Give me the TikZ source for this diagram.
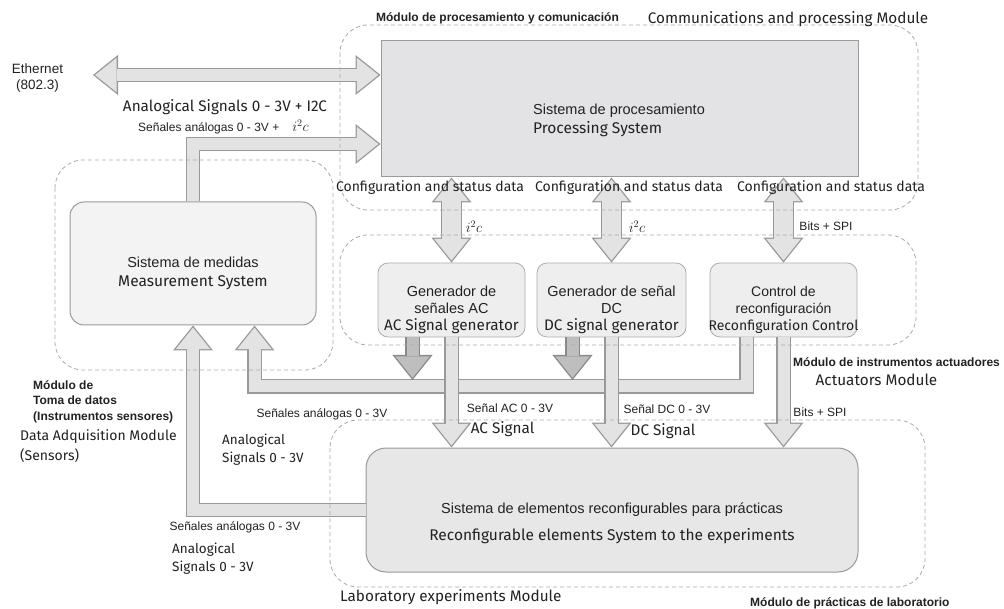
\documentclass[tikz,border=0pt]{standalone}
\usepackage{fontspec}
\setmainfont{Liberation Sans}
\newfontfamily\engfont{Fira Sans}
\usetikzlibrary{arrows.meta}

\definecolor{txt}{HTML}{222222}
\definecolor{boxline}{HTML}{9A9A9A}
\definecolor{procfill}{HTML}{E3E3E5}
\definecolor{measfill}{HTML}{F3F3F3}
\definecolor{genfill}{HTML}{EEEEEE}
\definecolor{labfill}{HTML}{E7E7E7}
\definecolor{arrfill}{HTML}{E3E3E3}
\definecolor{arrline}{HTML}{999999}
\definecolor{darkfill}{HTML}{BEBEBE}
\definecolor{darkline}{HTML}{888888}
\definecolor{modline}{HTML}{AAAAAA}

\tikzset{
  es/.style={font=\fontsize{12}{14}\selectfont},
  esb/.style={font=\bfseries\fontsize{12}{15.5}\selectfont},
  esbox/.style={font=\fontsize{14.5}{19}\selectfont},
  en/.style={font=\engfont\fontsize{15.3}{20}\selectfont},
  encfg/.style={font=\engfont\fontsize{14}{18}\selectfont},
  ensm/.style={font=\engfont\fontsize{13.5}{18}\selectfont},
  label/.style={text=txt, inner sep=0pt},
  procbox/.style={draw=boxline, fill=procfill, line width=1pt, inner sep=0pt},
  rbox/.style={draw=boxline, line width=1pt, rounded corners=14pt, inner sep=0pt},
  genbox/.style={draw=boxline!80, fill=genfill, line width=0.8pt, rounded corners=10pt, inner sep=0pt,
    minimum height=74pt},
  modframe/.style={draw=modline, line width=0.8pt, dash pattern=on 4pt off 3pt, rounded corners=28pt},
  % block arrow bands: outline pass and fill pass
  bandO/.style={draw=arrline, line width=14.6pt},
  bandI/.style={draw=arrfill, line width=12pt},
  wbandO/.style={draw=arrline, line width=21pt},
  wbandI/.style={draw=arrfill, line width=18.4pt},
  dbandO/.style={draw=darkline, line width=14.6pt},
  dbandI/.style={draw=darkfill, line width=12pt},
  headO/.style={-{Triangle[width=40pt,length=25pt,line width=0pt]}},
  headI/.style={-{Triangle[width=34.6pt,length=21.6pt,line width=0pt]}, shorten >=2.1pt},
  dblO/.style={{Triangle[width=40pt,length=25pt,line width=0pt]}-{Triangle[width=40pt,length=25pt,line width=0pt]}},
  dblI/.style={{Triangle[width=34.6pt,length=21.6pt,line width=0pt]}-{Triangle[width=34.6pt,length=21.6pt,line width=0pt]},
    shorten >=2.1pt, shorten <=2.1pt},
}

\begin{document}
\begin{tikzpicture}[x=1pt,y=-1pt]
\path[use as bounding box, fill=white] (0,0) rectangle (1004,609);

% ---- system blocks ----
\node[procbox, minimum width=477pt, minimum height=136pt] (proc) at (619.5,109) {};
\node[rbox, fill=measfill, minimum width=246pt, minimum height=123pt] (meas) at (193,263.5) {};
\node[genbox, minimum width=147pt] (acgen) at (451.5,300) {};
\node[genbox, minimum width=149pt] (dcgen) at (611.5,300) {};
\node[genbox, minimum width=147pt] (rcctl) at (783.5,300) {};
\node[rbox, fill=labfill, rounded corners=20pt, minimum width=492pt, minimum height=124pt] (lab) at (612,510) {};

% ---- block texts ----
\node[label, esbox, align=left, anchor=west] (proctxt) at (533,120)
  {Sistema de procesamiento\\{\engfont\fontsize{15.5}{19}\selectfont Processing System}};
\node[label, esbox, align=center] (meastxt) at ([yshift=-10pt]meas.center)
  {Sistema de medidas\\{\engfont\fontsize{15.5}{19}\selectfont Measurement System}};
\node[label, font=\fontsize{14.5}{17}\selectfont, align=center] (actxt) at ([yshift=-10pt]acgen.center)
  {Generador de\\señales AC\\{\engfont\fontsize{15.3}{17}\selectfont AC Signal generator}};
\node[label, font=\fontsize{14.5}{17}\selectfont, align=center] (dctxt) at ([yshift=-10pt]dcgen.center)
  {Generador de señal\\DC\\{\engfont\fontsize{15.3}{17}\selectfont DC signal generator}};
\node[label, font=\fontsize{14}{17}\selectfont, align=center] (rctxt) at ([yshift=-10pt]rcctl.center)
  {Control de\\reconfiguración\\{\engfont Reconfiguration Control}};
\node[label, align=center, font=\fontsize{14.5}{27}\selectfont] (labtxt) at ([yshift=-13.5pt]lab.center)
  {Sistema de elementos reconfigurables para prácticas\\{\engfont\fontsize{15.5}{27}\selectfont Reconfigurable elements System to the experiments}};

% ---- signal connectors ----
\coordinate (ethend) at (93,75);
\coordinate (anbend) at (193,144);
\coordinate (busline) at (0,386.5);
\coordinate (bustop) at (0,380);
\coordinate (busout) at ([xshift=-37pt]rcctl.south);
\coordinate (busin) at ([xshift=61.5pt]meas.south);
\coordinate (acdark) at ([xshift=-39pt]acgen.south);
\coordinate (dcdark) at ([xshift=-39pt]dcgen.south);

% Ethernet link
\draw[bandO, dblO] (ethend) -- (proc.west |- ethend);
\draw[bandI, dblI] (ethend) -- (proc.west |- ethend);
% measurements to processing
\draw[bandO, headO] (meas.north) |- (proc.west |- anbend);
\draw[bandI, headI] (meas.north) |- (proc.west |- anbend);
% actuator bus back to measurements
\draw[bandO, headO] (busout) |- (busin |- busline) -- (busin);
\draw[bandI, headI] (busout) |- (busin |- busline) -- (busin);
% lab elements back to measurements
\draw[bandO, headO] (lab.west) -| (meas.south);
\draw[bandI, headI] (lab.west) -| (meas.south);
% generator outputs onto the bus
\draw[dbandO, headO] (acdark) -- (acdark |- bustop);
\draw[dbandI, headI] (acdark) -- (acdark |- bustop);
\draw[dbandO, headO] (dcdark) -- (dcdark |- bustop);
\draw[dbandI, headI] (dcdark) -- (dcdark |- bustop);
% actuator outputs to the lab elements
\foreach \src in {acgen, dcgen, rcctl} {
  \draw[bandO, headO] (\src.south) -- (\src.south |- lab.north);
  \draw[bandI, headI] (\src.south) -- (\src.south |- lab.north);
}
% processing <-> actuators
\foreach \dst in {acgen, dcgen, rcctl} {
  \draw[wbandO, dblO] (\dst.north |- proc.south) -- (\dst.north);
  \draw[wbandI, dblI] (\dst.north |- proc.south) -- (\dst.north);
}

% ---- module frames ----
\draw[modframe] (340,25) rectangle (918,210);
\draw[modframe] (55,160) rectangle (333,370);
\draw[modframe] (340,235) rectangle (916,345);
\draw[modframe] (330,420) rectangle (925,587);

% ---- labels ----
\node[label, esb] (lmodproc) at (497.5,18) {Módulo de procesamiento y comunicación};
\node[label, en] (lcomm) at (788,19) {Communications and processing Module};
\node[label, font=\fontsize{13.5}{16.5}\selectfont, align=center] (leth) at (37.5,78) {Ethernet\\(802.3)};
\node[label, en] (lan1) at (225,107) {Analogical Signals 0 - 3V + I2C};
\node[label, es, anchor=west] (lan2) at (138,127) {Señales análogas 0 - 3V +\hspace{13pt}\fontsize{14}{14}\selectfont$i^2c$};
\node[label, encfg] (lcfg1) at (430,188) {Configuration and status data};
\node[label, encfg] (lcfg2) at (629,188) {Configuration and status data};
\node[label, encfg] (lcfg3) at (831,188) {Configuration and status data};
\node[label, font=\fontsize{14}{14}\selectfont] (li2c1) at (474,227) {$i^2c$};
\node[label, font=\fontsize{14}{14}\selectfont] (li2c2) at (637,227) {$i^2c$};
\node[label, es] (lspi1) at (826,226) {Bits + SPI};
\node[label, esb, anchor=west] (lmodact) at (793,362) {Módulo de instrumentos actuadores};
\node[label, en] (lact) at (876.5,380) {Actuators Module};
\node[label, es] (lsa1) at (322,414) {Señales análogas 0 - 3V};
\node[label, ensm, align=left, anchor=west] (las1) at (222,450) {Analogical\\Signals 0 - 3V};
\node[label, es] (lsa2) at (235,527) {Señales análogas 0 - 3V};
\node[label, ensm, align=left, anchor=west] (las2) at (172,559) {Analogical\\Signals 0 - 3V};
\node[label, es] (lsac) at (510,408) {Señal AC 0 - 3V};
\node[label, en] (lac) at (502.5,429) {AC Signal};
\node[label, es] (lsdc) at (667,409) {Señal DC 0 - 3V};
\node[label, en] (ldc) at (663,431) {DC Signal};
\node[label, es] (lspi2) at (820,412) {Bits + SPI};
\node[label, esb, align=left, anchor=west] (lmodsens) at (33,401.5) {Módulo de\\Toma de datos\\(Instrumentos sensores)};
\node[label, font=\engfont\fontsize{14}{20}\selectfont, align=left, anchor=west] (ldaq) at (20,446) {Data Adquisition Module\\(Sensors)};
\node[label, en, anchor=west] (llab) at (340,597) {Laboratory experiments Module};
\node[label, esb, anchor=west] (lmodlab) at (750,603) {Módulo de prácticas de laboratorio};
\end{tikzpicture}
\end{document}
